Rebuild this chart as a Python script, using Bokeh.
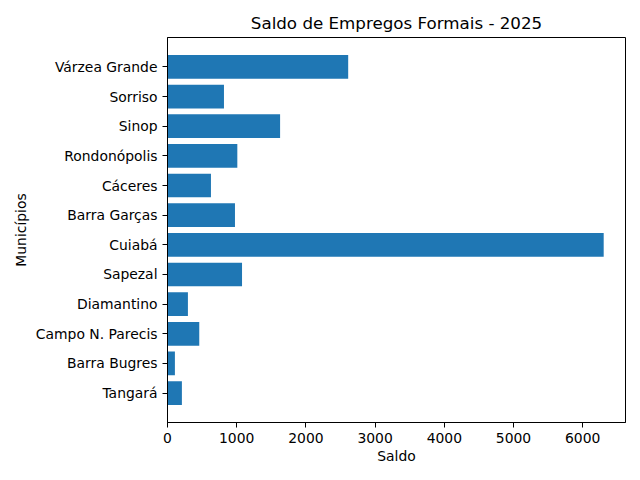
from bokeh.plotting import figure
from bokeh.models import FactorRange, Range1d, ColumnDataSource
from bokeh.embed import file_html
from bokeh.resources import INLINE

municipios = ["Tangará", "Barra Bugres", "Campo N. Parecis", "Diamantino", "Sapezal",
              "Cuiabá", "Barra Garças", "Cáceres", "Rondonópolis", "Sinop", "Sorriso",
              "Várzea Grande"]
saldo = [208, 107, 459, 295, 1077, 6303, 975, 628, 1009, 1627, 816, 2611]
x_ticks = [0, 1000, 2000, 3000, 4000, 5000, 6000]

src = ColumnDataSource(dict(m=municipios, s=saldo))

FONT = "DejaVu Sans"
p = figure(width=640, height=480, output_backend="svg", toolbar_location=None,
           y_range=FactorRange(*municipios, range_padding=0.49, range_padding_units="absolute"),
           x_range=Range1d(0, max(saldo) * 1.05),
           title="Saldo de Empregos Formais - 2025",
           min_border_left=167, min_border_right=15, min_border_top=37, min_border_bottom=58)
p.hbar(y="m", right="s", left=0, height=0.8, source=src, color="#1f77b4", line_color=None)

p.title.align = "center"
p.title.text_font = FONT
p.title.text_font_size = "16.7px"
p.title.text_font_style = "normal"
p.title.text_color = "black"
p.title.offset = 0

p.xgrid.visible = False
p.ygrid.visible = False
p.outline_line_color = "black"
p.outline_line_width = 1
p.outline_line_alpha = 1

for ax in (p.xaxis[0], p.yaxis[0]):
    ax.axis_line_color = "black"
    ax.major_tick_line_color = "black"
    ax.major_tick_out = 5
    ax.major_tick_in = 0
    ax.minor_tick_line_color = None
    ax.major_label_text_font = FONT
    ax.major_label_text_font_size = "13.9px"
    ax.major_label_text_color = "black"
    ax.axis_label_text_font = FONT
    ax.axis_label_text_font_size = "13.9px"
    ax.axis_label_text_font_style = "normal"
    ax.axis_label_text_color = "black"
    ax.major_label_standoff = 5

p.xaxis.axis_label = "Saldo"
p.yaxis.axis_label = "Municípios"
p.xaxis.ticker = x_ticks
p.xaxis.axis_label_standoff = 2
p.yaxis.axis_label_standoff = 4

open("out.html", "w").write(file_html(p, INLINE))
